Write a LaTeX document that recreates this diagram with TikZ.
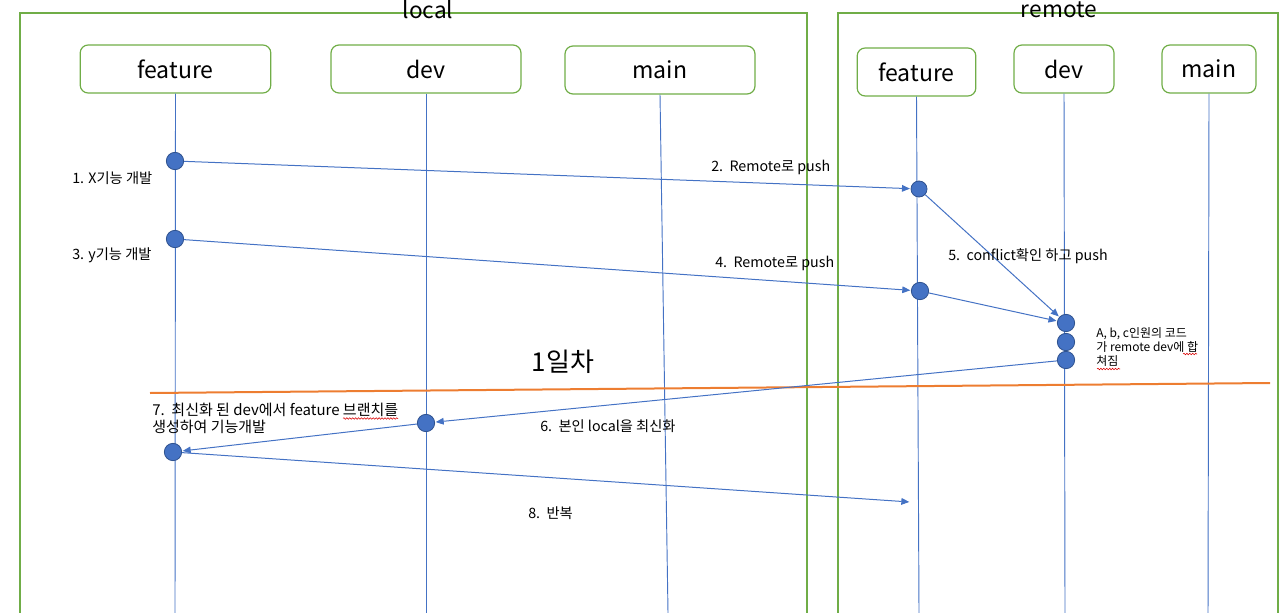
\documentclass[tikz,border=0pt]{standalone}
\usepackage{fontspec}
\setmainfont{Noto Sans CJK KR}
\usetikzlibrary{arrows.meta,decorations.pathmorphing}
\definecolor{grn}{HTML}{70AD47}
\definecolor{blu}{HTML}{4472C4}
\definecolor{dblu}{HTML}{2F528F}
\definecolor{org}{HTML}{ED7D31}
\tikzset{
  frame/.style={draw=grn, line width=0.9pt},
  branch/.style={draw=grn, line width=0.9pt, rounded corners=6pt, inner sep=0pt, font=\fontsize{17.3}{19}\selectfont},
  title/.style={font=\fontsize{17}{19}\selectfont, inner sep=0pt},
  life/.style={draw=blu, line width=0.7pt},
  dot/.style={circle, fill=blu, draw=dblu, line width=0.6pt, minimum size=13pt, inner sep=0pt},
  msg/.style={draw=blu, line width=0.75pt, -{Triangle[length=6pt,width=5pt]}, shorten >=0.5pt},
  lbl/.style={font=\fontsize{10.7}{12.6}\selectfont, inner sep=0pt, anchor=west, align=left},
  small/.style={font=\fontsize{9}{10.5}\selectfont, inner sep=0pt, anchor=north west, align=left},
  squig/.style={draw=red!85!black, line width=0.4pt, decorate, decoration={snake, amplitude=0.6pt, segment length=2.2pt}},
}
\begin{document}
\begin{tikzpicture}[x=0.75pt,y=-0.75pt]
\useasboundingbox (0,0) rectangle (1280,613);
% frames
\draw[frame] (20,613) -- (20,13) -- (807,13) -- (807,613);
\draw[frame] (838,613) -- (838,13) -- (1278,13) -- (1278,613);
\node[title] (tlocal) at (428,10) {local};
\node[title] (tremote) at (1059,10) {remote};
% branch boxes
\node[branch, minimum width=143pt, minimum height=36pt] (lf) at (175.5,69) {feature};
\node[branch, minimum width=142.5pt, minimum height=36pt] (ld) at (426,69) {dev};
\node[branch, minimum width=142.5pt, minimum height=36pt] (lm) at (660,70) {main};
\node[branch, minimum width=89pt, minimum height=36pt] (rf) at (916.5,72) {feature};
\node[branch, minimum width=75pt, minimum height=36pt] (rd) at (1064,69) {dev};
\node[branch, minimum width=70.5pt, minimum height=36pt] (rm) at (1209,69) {main};
% lifeline ends
\coordinate (lfe) at (175,613);
\coordinate (lde) at (426,613);
\coordinate (lme) at (668,613);
\coordinate (rfe) at (919,613);
\coordinate (rde) at (1065,613);
\coordinate (rme) at (1208,613);
\draw[life] (lf.south) -- (lfe);
\draw[life] (ld.south) -- (lde);
\draw[life] (lm.south) -- (lme);
\draw[life] (rf.south) -- (rfe);
\draw[life] (rd.south) -- (rde);
\draw[life] (rm.south) -- (rme);
% day separator
\coordinate (o1) at (150,393);
\coordinate (o2) at (1270,383);
\draw[draw=org, line width=1.5pt] (o1) -- (o2);
% commits
\node[dot] (c1) at (175,161) {};
\node[dot, minimum size=12pt] (c2) at (919,189) {};
\node[dot] (c3) at (175,239) {};
\node[dot] (c4) at (920,291) {};
\node[dot] (c5) at (1066,323) {};
\node[dot] (c6) at (1066,342) {};
\node[dot] (c7) at (1066,360) {};
\node[dot] (c8) at (426,423) {};
\node[dot] (c9) at (173,452) {};
\coordinate (e8) at (910,502);
% messages
\draw[msg] (c1) -- (c2);
\draw[msg] (c3) -- (c4);
\draw[msg] (c2) -- (c5);
\draw[msg] (c4) -- (c5);
\draw[msg] (c7) -- (c8);
\draw[msg] (c8) -- (c9);
\draw[msg] (c9) -- (e8);
% labels
\node[lbl] (l1) at (72,178) {1. X기능 개발};
\node[lbl] (l3) at (72,255) {3. y기능 개발};
\node[lbl] (l2) at (711,167) {2.\ \ Remote로 push};
\node[lbl] (l4) at (715,263) {4.\ \ Remote로 push};
\node[lbl] (l5) at (948,256) {5.\ \ conflict확인 하고 push};
\node[small] (lm5) at (1096,327) {A, b, c인원의 코드\\가 remote dev에 합\\쳐짐};
\node[font=\fontsize{19.5}{22}\selectfont, inner sep=0pt] (day) at (563,362) {1일차};
\node[lbl, font=\fontsize{11.25}{12.8}\selectfont] (l7) at (152,418.5) {7.\ \ 최신화 된 dev에서 feature 브랜치를\\생성하여 기능개발};
\node[lbl] (l6) at (540,426) {6.\ \ 본인 local을 최신화};
\node[lbl] (l8) at (528,513) {8.\ \ 반복};
% spell-check marks
\draw[squig] (343,418.5) -- (398,418.5);
\draw[squig] (1183,354) -- (1197,354);
\draw[squig] (1097,369) -- (1120,369);
\end{tikzpicture}
\end{document}
